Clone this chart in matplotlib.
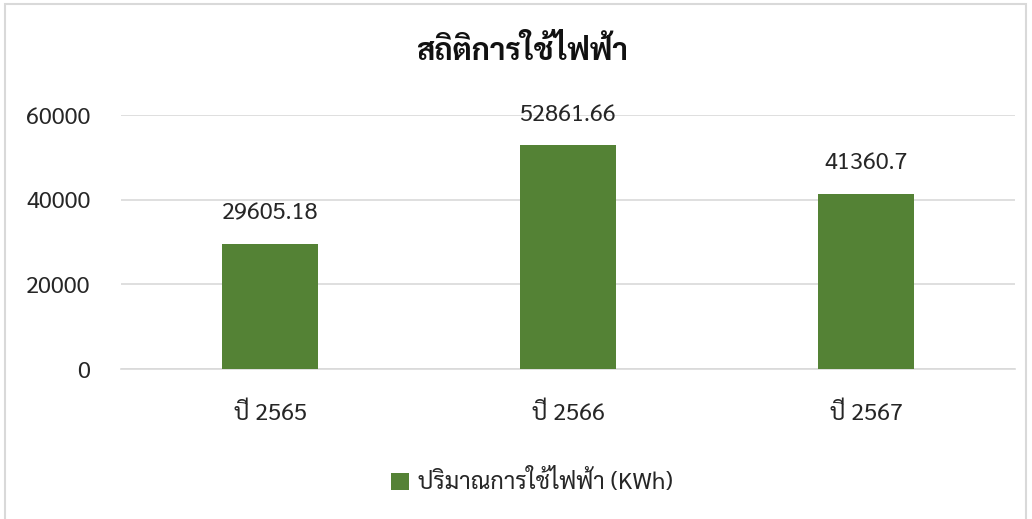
import glob
import matplotlib
matplotlib.use('Agg')
import matplotlib.pyplot as plt
from matplotlib import font_manager
from matplotlib.patches import Rectangle

categories = ['ปี 2565', 'ปี 2566', 'ปี 2567']
values = [29605.18, 52861.66, 41360.7]
value_labels = ['29605.18', '52861.66', '41360.7']
yticks = [0, 20000, 40000, 60000]
title = 'สถิติการใช้ไฟฟ้า'
series_name = 'ปริมาณการใช้ไฟฟ้า (KWh)'

# Thai-capable font (google fonts folder), fall back to DejaVu
thai = 'DejaVu Sans'
for p in glob.glob('/usr/share/fonts/truetype/google-fonts/Sarabun-*.ttf'):
    font_manager.fontManager.addfont(p)
    thai = 'Sarabun'
plt.rcParams['font.family'] = [thai, 'DejaVu Sans']

txt = '#262626'
fig = plt.figure(figsize=(10.32, 5.19), dpi=100)
ax = fig.add_axes([121/1032, 1 - 369/519, (1015 - 121)/1032, (369 - 115)/519])

x = range(len(categories))
ax.bar(x, values, width=0.32, color='#548235', zorder=3, label=series_name)
for xi, v, lab in zip(x, values, value_labels):
    ax.annotate(lab, (xi, v), xytext=(0, 14), textcoords='offset points',
                ha='center', va='bottom', fontsize=17, color=txt)

ax.set_xlim(-0.5, 2.5)
ax.set_ylim(0, 60000)
ax.set_yticks(yticks)
ax.set_yticklabels([str(t) for t in yticks])
ax.set_xticks(list(x))
ax.set_xticklabels(categories)
ax.tick_params(axis='y', length=0, labelsize=17, pad=22, labelcolor=txt)
ax.tick_params(axis='x', length=0, labelsize=17, pad=24, labelcolor=txt)
ax.grid(axis='y', color='#d9d9d9', linewidth=1.2, zorder=0)
for s in ['top', 'right', 'left']:
    ax.spines[s].set_visible(False)
ax.spines['bottom'].set_color('#d9d9d9')
ax.spines['bottom'].set_linewidth(1.2)

fig.text(522/1032, 1 - 52/519, title, ha='center', va='center', fontsize=22, fontweight='bold', color='#111111')
fig.legend(loc='center', bbox_to_anchor=(532/1032, 1 - 482/519), frameon=False, fontsize=17,
           handlelength=0.75, handleheight=0.75, handletextpad=0.4, labelcolor=txt)

fig.patches.append(Rectangle((5/1032, -0.01), 1021/1032, 1 - 4/519 + 0.01, transform=fig.transFigure,
                             fill=False, edgecolor='#d9d9d9', linewidth=1.5))

fig.savefig('out.png', dpi=100)
